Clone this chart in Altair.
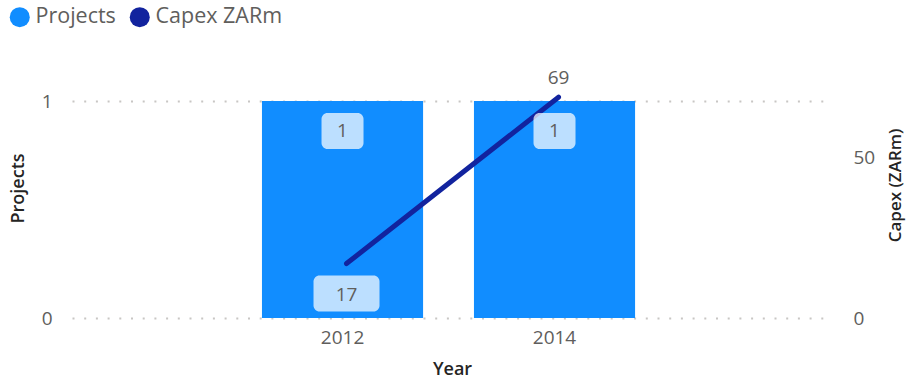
import altair as alt
import pandas as pd

years = ["2012", "2014"]
projects = [1, 1]
capex_zarm = [17, 69]
series_names = ["Projects", "Capex ZARm"]
series_colors = ["#118DFF", "#12239E"]

df = pd.DataFrame({"Year": years, "Projects": projects, "Capex": capex_zarm})

FONT = "Open Sans"
LABEL_COLOR = "#605E5C"
TITLE_COLOR = "#252423"
BOX_COLOR = "#FFFFFF"

xscale = alt.Scale(domain=years, paddingInner=0.24, paddingOuter=0.9125, align=0.491)
x_axis = alt.Axis(labelAngle=0, domain=False, ticks=False, grid=False,
                  labelFont=FONT, labelFontSize=19, labelColor=LABEL_COLOR, labelPadding=10,
                  titleFont=FONT, titleFontSize=18, titleFontWeight=600, titleColor=TITLE_COLOR,
                  titlePadding=13)
x_enc = alt.X("Year:N", title="Year", scale=xscale, axis=x_axis)

left_scale = alt.Scale(domain=[0, 1], nice=False, zero=True)
right_scale = alt.Scale(domain=[0, 67.8], nice=False, zero=True)

base = alt.Chart(df)

bars = base.transform_calculate(series="'Projects'").mark_bar().encode(
    x=x_enc,
    y=alt.Y("Projects:Q", scale=left_scale,
            axis=alt.Axis(values=[0, 1], format="d", grid=True, gridDash=[2, 9.7],
                          gridColor="#C8C6C4", gridWidth=2, domain=False, ticks=False,
                          labelPadding=20, labelFont=FONT, labelFontSize=19,
                          labelColor=LABEL_COLOR,
                          title="Projects", titleFont=FONT, titleFontSize=18, titleFontWeight=600,
                          titleColor=TITLE_COLOR, titleAngle=270, titleX=-54, titleY=87,
                          titleAlign="center", titleBaseline="middle")),
    color=alt.Color("series:N", scale=alt.Scale(domain=series_names, range=series_colors),
                    legend=alt.Legend(title=None, orient="none", legendX=-63, legendY=-95,
                                      direction="horizontal", symbolType="circle", symbolSize=400,
                                      symbolStrokeWidth=0, labelFont=FONT, labelFontSize=21.5,
                                      labelColor=LABEL_COLOR, labelOffset=5, columnPadding=13)),
)

line = base.mark_line(strokeWidth=5, strokeCap="round", color="#12239E", xOffset=4).encode(
    x=x_enc,
    y=alt.Y("Capex:Q", scale=right_scale,
            axis=alt.Axis(orient="right", values=[0, 50], grid=False, domain=False, ticks=False,
                          labelPadding=21, labelFont=FONT, labelFontSize=19, labelColor=LABEL_COLOR,
                          title="Capex (ZARm)", titleFont=FONT, titleFontSize=17,
                          titleFontWeight=600, titleColor=TITLE_COLOR, titleAngle=270,
                          titleX=63, titleY=84, titleAlign="center", titleBaseline="middle")),
)

bar_box = base.mark_bar(width=42, cornerRadius=6, color=BOX_COLOR, opacity=0.72,
                        yOffset=12, y2Offset=48).encode(
    x=x_enc,
    y=alt.Y("Projects:Q", scale=left_scale, axis=None),
    y2="Projects:Q",
)
bar_text = base.mark_text(font=FONT, fontSize=19, color=LABEL_COLOR, yOffset=30,
                          baseline="middle").encode(
    x=x_enc,
    y=alt.Y("Projects:Q", scale=left_scale, axis=None),
    text="Projects:Q",
)

line_box = base.transform_filter("datum.Year == '2012'").mark_bar(
    width=66, cornerRadius=6, color=BOX_COLOR, opacity=0.72, xOffset=4,
    yOffset=12, y2Offset=48).encode(
    x=x_enc,
    y=alt.Y("Capex:Q", scale=right_scale, axis=None),
    y2="Capex:Q",
)
line_text_low = base.transform_filter("datum.Year == '2012'").mark_text(
    font=FONT, fontSize=19, color=LABEL_COLOR, xOffset=4, yOffset=31, baseline="middle").encode(
    x=x_enc,
    y=alt.Y("Capex:Q", scale=right_scale, axis=None),
    text="Capex:Q",
)
line_text_high = base.transform_filter("datum.Year == '2014'").mark_text(
    font=FONT, fontSize=19, color=LABEL_COLOR, xOffset=4, yOffset=-19, baseline="middle").encode(
    x=x_enc,
    y=alt.Y("Capex:Q", scale=right_scale, axis=None),
    text="Capex:Q",
)

chart = alt.layer(
    bars, line, bar_box, bar_text, line_box, line_text_low, line_text_high
).resolve_scale(y="independent").properties(
    width=760, height=217,
    padding={"left": 72, "top": 101, "right": 75, "bottom": 64},
    autosize=alt.AutoSizeParams(type="none"),
    background="white",
).configure_view(stroke=None)

chart.save("out.html", embed_options={"renderer": "svg", "actions": False})
